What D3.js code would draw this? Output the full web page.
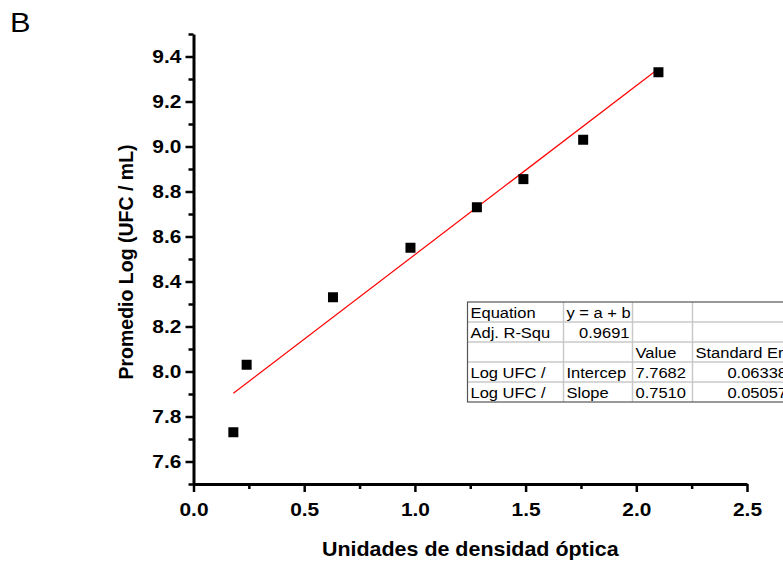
<!DOCTYPE html>
<html>
<head>
<meta charset="utf-8">
<script src="https://cdn.jsdelivr.net/npm/d3@7"></script>
<style>
  body { margin: 0; background: #fff; }
  svg { display: block; font-family: "Liberation Sans", Arial, sans-serif; }
</style>
</head>
<body>
<div id="chart"></div>
<script>
const svgWidth = 783
const svgHeight = 565

// data
const odUnits = [0.18, 0.24, 0.63, 0.98, 1.28, 1.49, 1.76, 2.10]
const logUfc = [7.73, 8.03, 8.33, 8.55, 8.73, 8.855, 9.03, 9.33]
const xMajorTicks = [0, 0.5, 1.0, 1.5, 2.0, 2.5]
const xMinorTicks = [0.25, 0.75, 1.25, 1.75, 2.25]
const yMajorTicks = [7.6, 7.8, 8.0, 8.2, 8.4, 8.6, 8.8, 9.0, 9.2, 9.4]
const yMinorTicks = [7.5, 7.7, 7.9, 8.1, 8.3, 8.5, 8.7, 8.9, 9.1, 9.3, 9.5]
const fitIntercept = 7.7682
const fitSlope = 0.7510

// fit table (Origin style), as shown in the cells
const tableRows = [
  ["Equation", "y = a + b", "", ""],
  ["Adj. R-Squ", "0.9691", "", ""],
  ["", "", "Value", "Standard Error"],
  ["Log UFC /", "Intercep", "7.7682", "0.06338"],
  ["Log UFC /", "Slope", "0.7510", "0.05057"]
]
const tableAlign = [
  ["start", "start", "start", "start"],
  ["start", "end", "start", "start"],
  ["start", "start", "start", "start"],
  ["start", "start", "start", "end"],
  ["start", "start", "start", "end"]
]

const stretch = 1.1

let svg = d3.select("#chart").append("svg")
  .attr("width", svgWidth)
  .attr("height", svgHeight)

let x = d3.scaleLinear().domain([0, 2.5]).range([193.5, 747])
let y = d3.scaleLinear().domain([7.5, 9.5]).range([484, 34])

// axes
let xAxis = svg.append("g")
  .attr("transform", "translate(0," + y(7.5) + ")")
  .call(d3.axisBottom(x).tickValues(xMajorTicks).tickSize(8).tickSizeOuter(0).tickPadding(10.5)
    .tickFormat(d3.format(".1f")))
svg.append("g")
  .attr("transform", "translate(0," + y(7.5) + ")")
  .call(d3.axisBottom(x).tickValues(xMinorTicks).tickSize(5).tickFormat(""))
  .call(g => g.select(".domain").remove())

let yAxis = svg.append("g")
  .attr("transform", "translate(" + x(0) + ",0)")
  .call(d3.axisLeft(y).tickValues(yMajorTicks).tickSize(8).tickSizeOuter(0).tickPadding(3)
    .tickFormat(d3.format(".1f")))
svg.append("g")
  .attr("transform", "translate(" + x(0) + ",0)")
  .call(d3.axisLeft(y).tickValues(yMinorTicks).tickSize(5).tickFormat(""))
  .call(g => g.select(".domain").remove())

svg.selectAll(".domain").attr("stroke", "#000").attr("stroke-width", 3)
svg.selectAll(".tick line").attr("stroke", "#000").attr("stroke-width", 2.5)
svg.selectAll(".tick text")
  .attr("font-family", "'Liberation Sans', Arial, sans-serif")
  .attr("font-size", "19px")
  .attr("font-weight", "bold")
  .attr("fill", "#000")
  .attr("transform", "scale(" + stretch + ",1)")
yAxis.selectAll(".tick text").attr("dy", "0.3em")

// fit line
svg.append("line")
  .attr("x1", x(d3.min(odUnits)))
  .attr("y1", y(fitIntercept + fitSlope * d3.min(odUnits)))
  .attr("x2", x(d3.max(odUnits)))
  .attr("y2", y(fitIntercept + fitSlope * d3.max(odUnits)))
  .attr("stroke", "#ff0000")
  .attr("stroke-width", 1.2)

// points
const sq = 10
svg.selectAll("rect.pt")
  .data(odUnits)
  .enter()
  .append("rect")
  .attr("class", "pt")
  .attr("x", d => x(d) - sq / 2)
  .attr("y", (d, i) => y(logUfc[i]) - sq / 2)
  .attr("width", sq)
  .attr("height", sq)
  .attr("fill", "#000")

// table
const colEdges = [467.5, 563.5, 632.5, 692.5, 790]
const rowTop = 302
const rowH = 20
let tbl = svg.append("g")
let defs = svg.append("defs")
tableRows.forEach((row, r) => {
  row.forEach((txt, c) => {
    let x0 = colEdges[c], x1 = colEdges[c + 1], y0 = rowTop + r * rowH
    let id = "cell" + r + "_" + c
    defs.append("clipPath").attr("id", id)
      .append("rect").attr("x", x0 + 1).attr("y", y0).attr("width", x1 - x0 - 2).attr("height", rowH)
    if (txt === "") return
    let al = tableAlign[r][c]
    let tx = al === "end" ? x1 - 3 : x0 + 3
    tbl.append("g").attr("clip-path", "url(#" + id + ")")
      .append("text")
      .attr("transform", "translate(" + tx + "," + (y0 + 15.5) + ") scale(" + stretch + ",1)")
      .attr("text-anchor", al)
      .attr("font-size", "15px")
      .attr("fill", "#000")
      .text(txt)
  })
})
// inner grid lines
for (let c = 1; c < colEdges.length - 1; c++) {
  tbl.append("line")
    .attr("x1", colEdges[c]).attr("x2", colEdges[c])
    .attr("y1", rowTop).attr("y2", rowTop + rowH * tableRows.length)
    .attr("stroke", "#c8c8c8").attr("stroke-width", 1.5)
}
for (let r = 1; r < tableRows.length; r++) {
  tbl.append("line")
    .attr("x1", colEdges[0]).attr("x2", colEdges[colEdges.length - 1])
    .attr("y1", rowTop + r * rowH).attr("y2", rowTop + r * rowH)
    .attr("stroke", "#c8c8c8").attr("stroke-width", 1.5)
}
tbl.append("rect")
  .attr("x", colEdges[0]).attr("y", rowTop)
  .attr("width", colEdges[colEdges.length - 1] - colEdges[0])
  .attr("height", rowH * tableRows.length)
  .attr("fill", "none").attr("stroke", "#555").attr("stroke-width", 1.2)

// labels
svg.append("text")
  .attr("transform", "translate(10,31.5) scale(" + stretch + ",1)")
  .attr("font-size", "28px")
  .text("B")

svg.append("text")
  .attr("transform", "translate(" + ((x(0) + x(2.5)) / 2) + ",556) scale(" + stretch + ",1)")
  .attr("text-anchor", "middle")
  .attr("font-size", "19.5px")
  .attr("font-weight", "bold")
  .text("Unidades de densidad óptica")

svg.append("text")
  .attr("transform", "translate(133," + ((y(7.5) + y(9.5)) / 2 + 3) + ") rotate(-90)")
  .attr("text-anchor", "middle")
  .attr("font-size", "19.5px")
  .attr("font-weight", "bold")
  .text("Promedio Log (UFC / mL)")
</script>
</body>
</html>
